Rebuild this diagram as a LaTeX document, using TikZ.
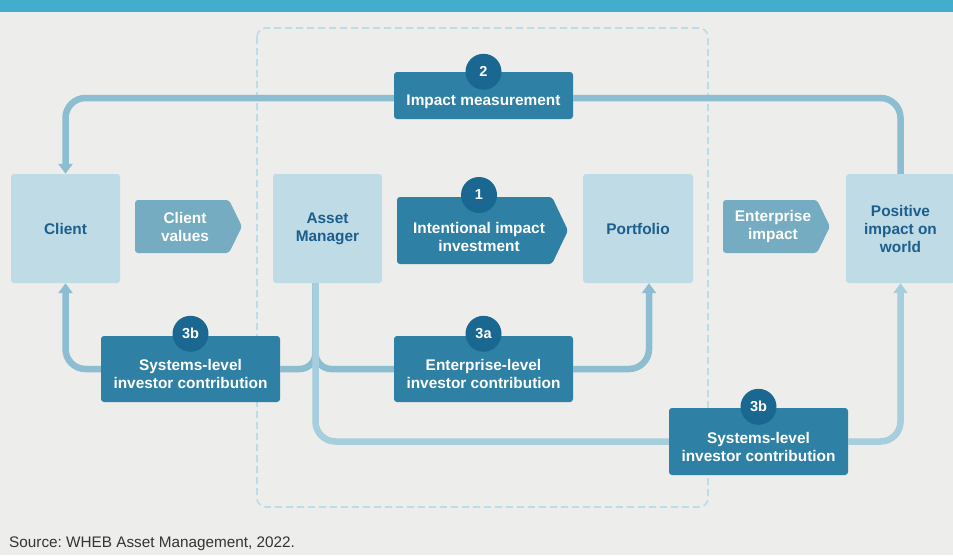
\documentclass[tikz,border=0pt]{standalone}
\usepackage{fontspec}
\setmainfont{Liberation Sans}
\usetikzlibrary{arrows.meta}
\frenchspacing

\definecolor{pagebg}{HTML}{EDEDEC}
\definecolor{barblue}{HTML}{43AECB}
\definecolor{framecol}{HTML}{BBDCE9}
\definecolor{boxlight}{HTML}{BEDBE6}
\definecolor{labeldark}{HTML}{1C5E8C}
\definecolor{tagfill}{HTML}{75ACC1}
\definecolor{boxdark}{HTML}{2E81A4}
\definecolor{badgefill}{HTML}{1A6891}
\definecolor{linea}{HTML}{8DBDD0}
\definecolor{lineb}{HTML}{A6CEDC}
\definecolor{srcgray}{HTML}{333333}

\begin{document}
\begin{tikzpicture}[x=1pt,y=-1pt,
  boxfont/.style={font=\bfseries\fontsize{15.4}{18}\selectfont},
  entity/.style={boxfont, rectangle, rounded corners=3pt, fill=boxlight,
    minimum width=109pt, minimum height=109pt, inner sep=0pt,
    align=center, text=labeldark},
  stepbox/.style={rectangle, rounded corners=3pt, fill=boxdark,
    minimum width=179pt, minimum height=66pt, inner sep=0pt},
  steplabel/.style={boxfont, text=white, align=center, inner sep=0pt},
  taglabel/.style={boxfont, text=white, align=center, inner sep=0pt},
  badge/.style={circle, fill=badgefill, minimum size=36pt, inner sep=0pt,
    text=white, font=\bfseries\fontsize{14.5}{16}\selectfont},
  tagshape/.style={fill=tagfill, rounded corners=3pt},
  stepshape/.style={fill=boxdark, rounded corners=3pt},
  conn/.style={line width=6.5pt, rounded corners=20pt},
  tip/.style={-{Triangle[width=14pt,length=10pt]}},
  frame/.style={draw=framecol, line width=1.6pt, dash pattern=on 7pt off 4pt,
    rounded corners=9pt}
]
\useasboundingbox (0,0) rectangle (953,555);
\fill[pagebg] (0,0) rectangle (953,555);
\fill[barblue] (0,0) rectangle (953,12);

% the asset manager's boundary
\draw[frame] (257,28) rectangle (708,507);

% the four actors
\node[entity] (client) at (65.5,228.5) {Client};
\node[entity] (am) at (327.5,228.5) {Asset\\Manager};
\node[entity, minimum width=110pt] (port) at (638,228.5) {Portfolio};
\node[entity] (world) at (900.5,228.5) {Positive\\impact on\\world};

% flows between actors
\fill[tagshape] (135,200) -- (229,200) -- (242,226.5) -- (229,253) -- (135,253) -- cycle;
\node[taglabel] (cv) at (185,227) {Client\\values};
\fill[stepshape] (397,197) -- (552,197) -- (568,230.5) -- (552,264) -- (397,264) -- cycle;
\node[steplabel] (iii) at (479,237) {Intentional impact\\investment};
\node[badge] (b1) at (479,195) {1};
\fill[tagshape] (723,200) -- (817,200) -- (830,226.5) -- (817,253) -- (723,253) -- cycle;
\node[taglabel] (ei) at (773,227) {Enterprise\\impact};

% numbered channels
\node[stepbox, minimum height=47pt] (imp) at (483.5,95.5) {};
\node[stepbox] (sysL) at (190.5,369) {};
\node[stepbox] (ent) at (483.5,369) {};
\node[stepbox, minimum height=67pt] (sysR) at (758.5,441.5) {};

% connectors
\coordinate (amx) at ([xshift=-12pt]am.south);
\coordinate (impw) at ([yshift=-2.5pt]imp.west);
\coordinate (impe) at ([yshift=-2.5pt]imp.east);
\draw[conn, linea, tip] (impw) -| (client.north);
\draw[conn, linea] (impe) -| (world.north);
\draw[conn, linea, rounded corners=16pt] (sysL.east) -| (amx);
\draw[conn, linea, rounded corners=16pt] (ent.west) -| (amx);
\draw[conn, lineb] (amx) |- (sysR.west);
\draw[conn, linea, tip] (sysL.west) -| (client.south);
\draw[conn, linea, tip] (ent.east) -| ([xshift=11pt]port.south);
\draw[conn, lineb, tip] (sysR.east) -| (world.south);

% channel labels and badges
\node[steplabel] (impt) at (483.5,102) {Impact measurement};
\node[badge] (b2) at (imp.north) {2};
\node[steplabel] (sysLt) at (190.5,374) {Systems-level\\investor contribution};
\node[badge] (b3bL) at ([yshift=2pt]sysL.north) {3b};
\node[steplabel] (entt) at (483.5,374) {Enterprise-level\\investor contribution};
\node[badge] (b3a) at ([yshift=2pt]ent.north) {3a};
\node[steplabel] (sysRt) at (758.5,447) {Systems-level\\investor contribution};
\node[badge] (b3bR) at ([yshift=1pt]sysR.north) {3b};

\node[anchor=base west, inner sep=0pt, text=srcgray,
  font=\fontsize{15.3}{18}\selectfont] (src) at (9,547)
  {Source: WHEB Asset Management, 2022.};
\end{tikzpicture}
\end{document}
